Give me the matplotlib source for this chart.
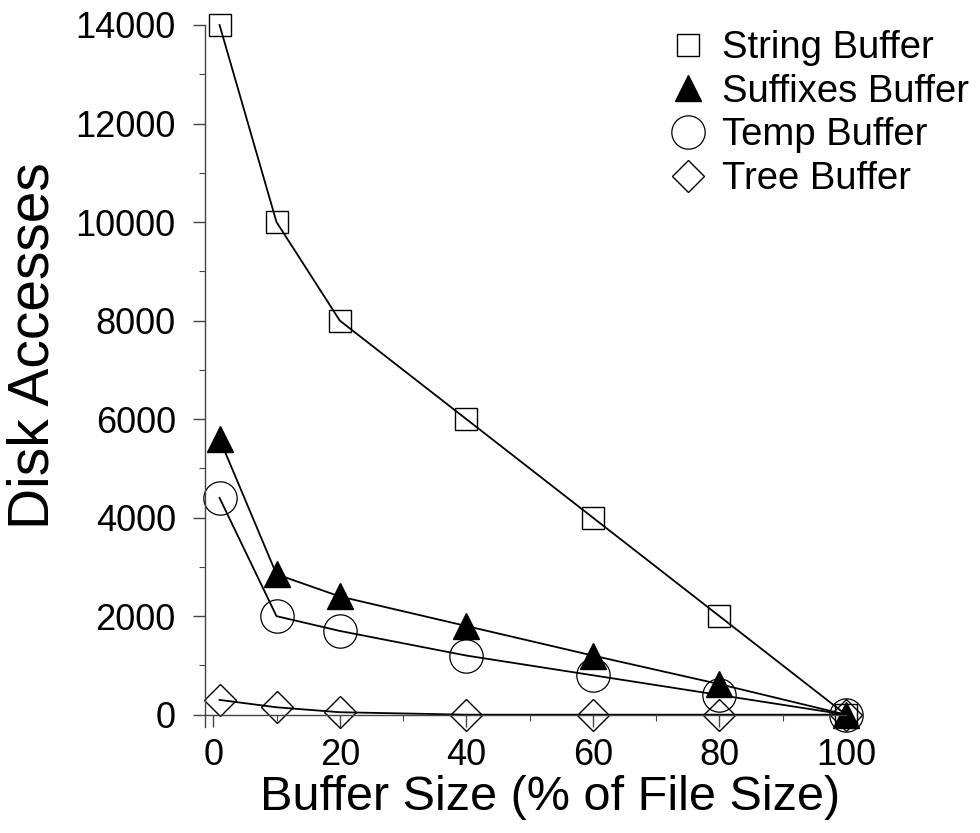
import matplotlib.pyplot as plt
from matplotlib.ticker import MultipleLocator

plt.rcParams['font.family'] = ['Liberation Sans', 'DejaVu Sans']

# Buffer size as % of file size
buffer_size = [1, 10, 20, 40, 60, 80, 100]

# Disk accesses for each buffer
string_buf = [14000, 10000, 8000, 6000, 4000, 2000, 0]
suffixes_buf = [5600, 2850, 2400, 1800, 1200, 620, 0]
temp_buf = [4400, 2000, 1700, 1200, 800, 400, 0]
tree_buf = [300, 150, 50, 0, 0, 0, 0]

fig = plt.figure(figsize=(9.8, 8.33), dpi=100)
ax = fig.add_axes([205 / 980, 1 - 727 / 833, (846 - 205) / 980, (727 - 25) / 833])

lw = 1.3
ax.plot(buffer_size, string_buf, 'k-', lw=lw, marker='s', ms=16.5, mfc='none', mec='k', mew=1.0,
        clip_on=False, label='String Buffer')
ax.plot(buffer_size, suffixes_buf, 'k-', lw=lw, marker='^', ms=19, mfc='k', mec='k', mew=1.0,
        clip_on=False, label='Suffixes Buffer')
ax.plot(buffer_size, temp_buf, 'k-', lw=lw, marker='o', ms=24, mfc='none', mec='k', mew=0.9,
        clip_on=False, label='Temp Buffer')
ax.plot(buffer_size, tree_buf, 'k-', lw=lw, marker='D', ms=16.5, mfc='none', mec='k', mew=1.0,
        clip_on=False, label='Tree Buffer')

ax.set_xlim(-1.3, 100)
ax.set_ylim(-250, 14000)

# only left and bottom axes, x axis sits at y = 0
ax.spines['top'].set_visible(False)
ax.spines['right'].set_visible(False)
ax.spines['bottom'].set_position(('data', 0))
ax.spines['bottom'].set_bounds(-1.3, 100)
for s in ('left', 'bottom'):
    ax.spines[s].set_linewidth(1.0)
    ax.spines[s].set_color('#444444')

ax.set_xticks([0, 20, 40, 60, 80, 100])
ax.xaxis.set_minor_locator(MultipleLocator(10))
ax.set_yticks(range(0, 14001, 2000))
ax.yaxis.set_minor_locator(MultipleLocator(1000))
ax.tick_params(which='major', direction='out', length=8.5, width=1.0, color='#444444',
               labelsize=26)
ax.tick_params(axis='x', which='major', pad=8)
ax.tick_params(axis='y', which='major', pad=12.5)
ax.tick_params(which='minor', direction='out', length=4, width=0.8, color='#444444')

ax.set_xlabel('Buffer Size (% of File Size)', fontsize=35)
ax.set_ylabel('Disk Accesses', fontsize=41)
ax.xaxis.set_label_coords(0.538, -0.068)
ax.yaxis.set_label_coords(-0.225, 0.543)

leg = ax.legend(loc='upper left', bbox_to_anchor=(669 / 980, 1 - 30 / 833),
                bbox_transform=fig.transFigure, frameon=False, fontsize=27.5,
                handlelength=1.0, handletextpad=0.4, labelspacing=0.2,
                borderpad=0, borderaxespad=0)
for line in leg.get_lines():
    line.set_linestyle('none')

fig.savefig('out.png', dpi=100)
